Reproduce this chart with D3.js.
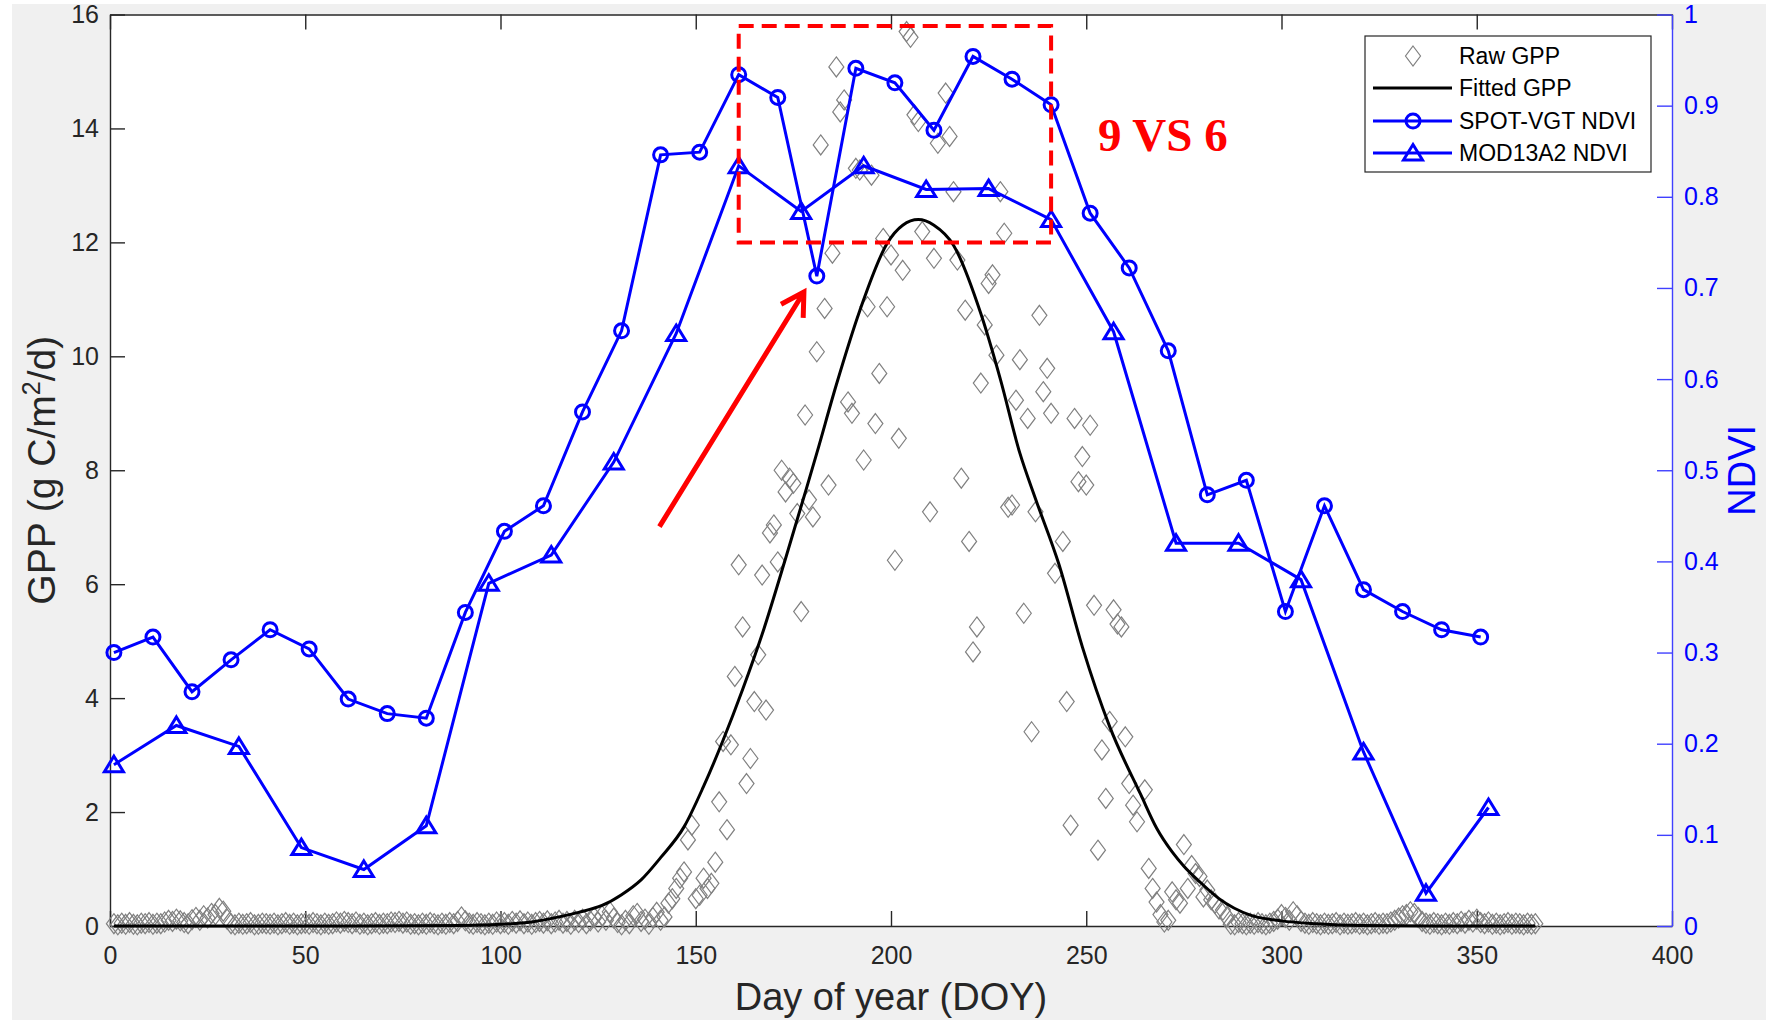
<!DOCTYPE html>
<html>
<head>
<meta charset="utf-8">
<script src="https://cdn.jsdelivr.net/npm/d3@7"></script>
<style>
  body { margin: 0; background: #ffffff; }
  text { font-family: "Liberation Sans", Arial, Helvetica, sans-serif; }
</style>
</head>
<body>
<div id="chart"></div>
<script>

// Raw GPP, one value per day (DOY 1..365), null where no marker is visible
const rawGpp = [
  0.04, 0.02, 0.05, 0.03, 0.06, 0.03, 0.02, 0.05, 0.04, 0.06,
  0.03, 0.05, 0.04, 0.07, 0.10, 0.08, 0.12, 0.09, 0.06, 0.04,
  0.11, 0.15, 0.10, 0.18, 0.14, 0.22, 0.20, 0.31, 0.26, 0.12,
  0.04, 0.02, 0.05, 0.03, 0.04, 0.06, 0.02, 0.03, 0.05, 0.04,
  0.03, 0.05, 0.02, 0.04, 0.06, 0.03, 0.05, 0.02, 0.04, 0.05,
  0.03, 0.06, 0.04, 0.02, 0.05, 0.03, 0.04, 0.07, 0.05, 0.08,
  0.06, 0.04, 0.07, 0.03, 0.05, 0.02, 0.04, 0.06, 0.03, 0.05,
  0.04, 0.07, 0.06, 0.08, 0.05, 0.07, 0.03, 0.04, 0.02, 0.05,
  0.03, 0.06, 0.04, 0.02, 0.05, 0.03, 0.06, 0.04, 0.08, 0.16,
  0.09, 0.05, 0.03, 0.06, 0.04, 0.02, 0.05, 0.03, 0.07, 0.04,
  0.06, 0.03, 0.08, 0.05, 0.09, 0.04, 0.07, 0.03, 0.06, 0.08,
  0.05, 0.09, 0.04, 0.07, 0.10, 0.05, 0.08, 0.03, 0.10, 0.06,
  0.12, 0.04, 0.09, 0.15, 0.07, 0.18, 0.10, 0.25, 0.14, 0.06,
  0.02, 0.10, 0.04, 0.18, 0.22, 0.08, 0.12, 0.03, 0.15, 0.24,
  0.10, 0.16, 0.40, 0.48, 0.66, 0.84, 0.95, 1.51, 1.77, 0.48,
  0.54, 0.84, 0.66, 0.75, 1.12, 2.18, 3.24, 1.69, 3.18, 4.38,
  6.34, 5.25, 2.50, 2.94, 3.94, 4.76, 6.16, 3.79, 6.90, 7.04,
  6.39, 8.00, 7.62, 7.86, 7.77, 7.24, 5.52, 8.97, 7.48, 7.18,
  10.08, 13.71, 10.84, 7.74, 11.81, 15.08, 14.29, 14.50, 9.20, 9.00,
  13.30, 13.27, 8.18, 10.87, 13.18, 8.82, 9.70, 12.07, 10.87, 11.78,
  6.42, 8.56, 11.51, 15.70, 15.60, 14.24, 14.12, 12.19, null, 7.27,
  11.72, 13.74, null, 14.62, 13.86, 12.89, 11.69, 7.86, 10.81, 6.75,
  4.81, 5.25, 9.53, 10.55, 11.28, 11.43, 10.02, 12.89, 12.16, 7.35,
  7.39, 9.23, 9.94, 5.49, 8.91, 3.41, 7.27, 10.72, 9.38, 9.79,
  9.00, 6.19, null, 6.75, 3.94, 1.77, 8.91, 7.80, 8.24, 7.74,
  8.79, 5.63, 1.33, 3.09, 2.24, 3.59, 5.55, 5.30, 5.25, 3.32,
  2.50, 2.12, 1.83, null, 2.39, 1.01, 0.66, 0.42, 0.20, 0.07,
  0.10, 0.60, 0.46, 0.40, 1.43, 0.66, 1.06, 0.92, 0.87, 0.51,
  0.63, 0.46, 0.40, 0.30, 0.28, 0.16, 0.03, 0.02, 0.06, 0.04,
  0.02, 0.05, 0.03, 0.06, 0.04, 0.02, 0.05, 0.08, 0.12, 0.20,
  0.15, 0.10, 0.25, 0.18, 0.08, 0.05, 0.03, 0.06, 0.04, 0.02,
  0.05, 0.03, 0.04, 0.06, 0.02, 0.05, 0.03, 0.04, 0.06, 0.03,
  0.05, 0.02, 0.04, 0.06, 0.03, 0.05, 0.04, 0.07, 0.10, 0.14,
  0.18, 0.20, 0.25, 0.22, 0.15, 0.08, 0.05, 0.03, 0.06, 0.04,
  0.02, 0.05, 0.03, 0.06, 0.04, 0.08, 0.05, 0.10, 0.07, 0.12,
  0.06, 0.04, 0.07, 0.03, 0.05, 0.02, 0.04, 0.06, 0.03, 0.05,
  0.04, 0.02, 0.05, 0.03, 0.04
];

// Fitted GPP curve
const fitDoy = [1, 60, 90, 100, 108, 115, 120, 126, 131, 136, 141, 147, 152, 157, 162, 167, 173, 178, 181, 186,
  192, 199, 203, 207, 211, 216, 223, 228, 233, 237, 243, 249, 256, 264, 268, 272, 275, 279, 284, 292,
  300, 309, 320, 340, 365];
const fitGpp = [0, 0, 0.01, 0.03, 0.07, 0.16, 0.24, 0.36, 0.55, 0.81, 1.2, 1.74, 2.45, 3.26, 4.15, 5.12, 6.45, 7.6, 8.3, 9.5,
  10.8, 11.98, 12.3, 12.4, 12.3, 11.95, 10.75, 9.6, 8.3, 7.5, 6.35, 4.9, 3.5, 2.3, 1.72, 1.3, 1.05, 0.78, 0.48, 0.19,
  0.09, 0.04, 0.01, 0, 0];

// SPOT-VGT NDVI (10-day)
const spotDoy = [1, 11, 21, 31, 41, 51, 61, 71, 81, 91, 101, 111, 121, 131, 141, 151, 161, 171,
  181, 191, 201, 211, 221, 231, 241, 251, 261, 271, 281, 291, 301, 311, 321, 331, 341, 351];
const spotNdvi = [0.300, 0.317, 0.257, 0.292, 0.325, 0.304, 0.249, 0.233, 0.228, 0.344, 0.433, 0.461,
  0.564, 0.653, 0.846, 0.849, 0.934, 0.909, 0.713, 0.941, 0.925, 0.873, 0.954, 0.929,
  0.901, 0.782, 0.722, 0.631, 0.473, 0.489, 0.345, 0.461, 0.369, 0.345, 0.325, 0.317];

// MOD13A2 NDVI (16-day)
const modDoy = [1, 17, 33, 49, 65, 81, 97, 113, 129, 145, 161, 177, 193, 209, 225, 241, 257, 273,
  289, 305, 321, 337, 353];
const modNdvi = [0.177, 0.220, 0.197, 0.086, 0.062, 0.110, 0.376, 0.407, 0.509, 0.650, 0.834, 0.784,
  0.834, 0.808, 0.809, 0.775, 0.652, 0.420, 0.420, 0.380, 0.191, 0.036, 0.130];

// tick labels
const xTicks = [0, 50, 100, 150, 200, 250, 300, 350, 400];
const gppTicks = [0, 2, 4, 6, 8, 10, 12, 14, 16];
const ndviTicks = [0, 0.1, 0.2, 0.3, 0.4, 0.5, 0.6, 0.7, 0.8, 0.9, 1];

// annotations, in data units
const boxDoy = [161, 241];
const boxGpp = [12.0, 15.8];
const arrowFrom = [140.7, 7.01];
const arrowTo = [177.7, 11.13];
const noteText = "9 VS 6";
const notePos = [253, 13.6];

const legendNames = ["Raw GPP", "Fitted GPP", "SPOT-VGT NDVI", "MOD13A2 NDVI"];


// SVG setup
const svgWidth = 1766;
const svgHeight = 1020;

const margin = { top: 14.5, right: 94, bottom: 94, left: 110 };
const width = svgWidth - margin.left - margin.right;
const height = svgHeight - margin.top - margin.bottom;

const axisColor = "#262626";
const blue = "#0000ff";
const tickFont = 25;

const svg = d3.select("#chart")
  .append("svg")
  .attr("width", svgWidth)
  .attr("height", svgHeight);

// MATLAB figure background
svg.append("rect")
  .attr("x", 12).attr("y", 4)
  .attr("width", svgWidth - 12).attr("height", svgHeight - 4)
  .attr("fill", "#f0f0f0");

const chartGroup = svg.append("g")
  .attr("transform", `translate(${margin.left}, ${margin.top})`);

chartGroup.append("rect")
  .attr("width", width).attr("height", height)
  .attr("fill", "#ffffff");

// scales
const x = d3.scaleLinear().domain([0, 400]).range([0, width]);
const yL = d3.scaleLinear().domain([0, 16]).range([height, 0]);
const yR = d3.scaleLinear().domain([0, 1]).range([height, 0]);

// axes (ticks point inward)
function styleAxis(g, color) {
  g.attr("font-size", tickFont);
  g.select(".domain").attr("stroke", color).attr("stroke-width", 1.4);
  g.selectAll(".tick line").attr("stroke", color).attr("stroke-width", 1.4);
  g.selectAll(".tick text").attr("fill", color);
}

chartGroup.append("g")
  .attr("transform", `translate(0, ${height})`)
  .call(d3.axisBottom(x).tickValues(xTicks).tickFormat(d3.format("d"))
    .tickSizeInner(-15).tickSizeOuter(0).tickPadding(20))
  .call(g => styleAxis(g, axisColor));

chartGroup.append("g")
  .call(d3.axisTop(x).tickValues(xTicks).tickFormat("")
    .tickSizeInner(-15).tickSizeOuter(0))
  .call(g => styleAxis(g, axisColor));

chartGroup.append("g")
  .call(d3.axisLeft(yL).tickValues(gppTicks).tickFormat(d3.format("d"))
    .tickSizeInner(-15).tickSizeOuter(0).tickPadding(11))
  .call(g => styleAxis(g, axisColor));

chartGroup.append("g")
  .attr("transform", `translate(${width}, 0)`)
  .call(d3.axisRight(yR).tickValues(ndviTicks).tickFormat(d3.format(".1~f"))
    .tickSizeInner(-15).tickSizeOuter(0).tickPadding(12))
  .call(g => styleAxis(g, blue))
  .call(g => g.select(".domain").attr("stroke", "#4040ff"))
  .call(g => g.selectAll(".tick line").attr("stroke", "#4040ff"));

// axis titles
svg.append("text")
  .attr("x", margin.left + width / 2)
  .attr("y", 1010)
  .attr("text-anchor", "middle")
  .attr("font-size", 38)
  .attr("fill", axisColor)
  .text("Day of year (DOY)");

const yTitle = svg.append("text")
  .attr("transform", `translate(55, ${margin.top + height / 2}) rotate(-90)`)
  .attr("text-anchor", "middle")
  .attr("font-size", 39)
  .attr("fill", axisColor);
yTitle.append("tspan").text("GPP (g C/m");
yTitle.append("tspan").attr("font-size", 25).attr("dy", -15).text("2");
yTitle.append("tspan").attr("dy", 15).text("/d)");

// right title sits at the figure edge; kept just inside it
svg.append("text")
  .attr("transform", `translate(1755, ${margin.top + height / 2}) rotate(-90)`)
  .attr("text-anchor", "middle")
  .attr("font-size", 38)
  .attr("fill", blue)
  .text("NDVI");

// marker shapes
const diamondPath = "M0,-10L7.5,0L0,10L-7.5,0Z";
const trianglePath = "M0,-8.5L9.5,7L-9.5,7Z";

// raw GPP diamonds
const rawData = rawGpp
  .map((v, i) => ({ doy: i + 1, gpp: v }))
  .filter(d => d.gpp !== null);

chartGroup.append("g")
  .selectAll("path")
  .data(rawData)
  .enter()
  .append("path")
  .attr("d", diamondPath)
  .attr("transform", d => `translate(${x(d.doy)}, ${yL(d.gpp)})`)
  .attr("fill", "none")
  .attr("stroke", "#808080")
  .attr("stroke-width", 1.2);

// fitted GPP
const fitData = fitDoy.map((d, i) => ({ doy: d, gpp: fitGpp[i] }));
chartGroup.append("path")
  .datum(fitData)
  .attr("d", d3.line().x(d => x(d.doy)).y(d => yL(d.gpp)).curve(d3.curveMonotoneX))
  .attr("fill", "none")
  .attr("stroke", "#000000")
  .attr("stroke-width", 3);

// NDVI series
const spotData = spotDoy.map((d, i) => ({ doy: d, v: spotNdvi[i] }));
const modData = modDoy.map((d, i) => ({ doy: d, v: modNdvi[i] }));
const ndviLine = d3.line().x(d => x(d.doy)).y(d => yR(d.v));

chartGroup.append("path")
  .datum(spotData)
  .attr("d", ndviLine)
  .attr("fill", "none")
  .attr("stroke", blue)
  .attr("stroke-width", 3);

chartGroup.append("g")
  .selectAll("circle")
  .data(spotData)
  .enter()
  .append("circle")
  .attr("cx", d => x(d.doy))
  .attr("cy", d => yR(d.v))
  .attr("r", 7)
  .attr("fill", "none")
  .attr("stroke", blue)
  .attr("stroke-width", 3);

chartGroup.append("path")
  .datum(modData)
  .attr("d", ndviLine)
  .attr("fill", "none")
  .attr("stroke", blue)
  .attr("stroke-width", 3);

chartGroup.append("g")
  .selectAll("path")
  .data(modData)
  .enter()
  .append("path")
  .attr("d", trianglePath)
  .attr("transform", d => `translate(${x(d.doy)}, ${yR(d.v)})`)
  .attr("fill", "none")
  .attr("stroke", blue)
  .attr("stroke-width", 3);

// red dashed box
chartGroup.append("rect")
  .attr("x", x(boxDoy[0]))
  .attr("y", yL(boxGpp[1]))
  .attr("width", x(boxDoy[1]) - x(boxDoy[0]))
  .attr("height", yL(boxGpp[0]) - yL(boxGpp[1]))
  .attr("fill", "none")
  .attr("stroke", "#ff0000")
  .attr("stroke-width", 4)
  .attr("stroke-dasharray", "15,8");

// red arrow
const ax0 = x(arrowFrom[0]), ay0 = yL(arrowFrom[1]);
const ax1 = x(arrowTo[0]), ay1 = yL(arrowTo[1]);
const back = Math.atan2(ay0 - ay1, ax0 - ax1);
const wing = 26;
const w1 = [ax1 + wing * Math.cos(back + Math.PI / 6), ay1 + wing * Math.sin(back + Math.PI / 6)];
const w2 = [ax1 + wing * Math.cos(back - Math.PI / 6), ay1 + wing * Math.sin(back - Math.PI / 6)];

chartGroup.append("path")
  .attr("d", `M${ax0},${ay0}L${ax1},${ay1}M${w1[0]},${w1[1]}L${ax1},${ay1}L${w2[0]},${w2[1]}`)
  .attr("fill", "none")
  .attr("stroke", "#ff0000")
  .attr("stroke-width", 5);

// serif note (style, so the css rule for text does not win)
chartGroup.append("text")
  .attr("x", x(notePos[0]))
  .attr("y", yL(notePos[1]))
  .style("font-family", "'Liberation Serif', 'Times New Roman', serif")
  .style("font-weight", "bold")
  .attr("font-size", 47)
  .attr("fill", "#ff0000")
  .text(noteText);

// legend
const legend = svg.append("g");
legend.append("rect")
  .attr("x", 1365).attr("y", 36)
  .attr("width", 286).attr("height", 136)
  .attr("fill", "#ffffff")
  .attr("stroke", axisColor)
  .attr("stroke-width", 1.2);

const rowY = [56, 88, 121, 153];

legendNames.forEach(function(name, i) {
  const cy = rowY[i];
  if (i > 0) {
    legend.append("line")
      .attr("x1", 1373).attr("x2", 1452)
      .attr("y1", cy).attr("y2", cy)
      .attr("stroke", i === 1 ? "#000000" : blue)
      .attr("stroke-width", 3);
  }
  if (i === 0) {
    legend.append("path").attr("d", diamondPath)
      .attr("transform", `translate(1413, ${cy})`)
      .attr("fill", "none").attr("stroke", "#808080").attr("stroke-width", 1.2);
  } else if (i === 2) {
    legend.append("circle").attr("cx", 1413).attr("cy", cy).attr("r", 7)
      .attr("fill", "none").attr("stroke", blue).attr("stroke-width", 3);
  } else if (i === 3) {
    legend.append("path").attr("d", trianglePath)
      .attr("transform", `translate(1413, ${cy})`)
      .attr("fill", "none").attr("stroke", blue).attr("stroke-width", 3);
  }
  legend.append("text")
    .attr("x", 1459)
    .attr("y", cy)
    .attr("dy", "0.35em")
    .attr("font-size", 23)
    .attr("fill", "#000000")
    .text(name);
});

</script>
</body>
</html>
